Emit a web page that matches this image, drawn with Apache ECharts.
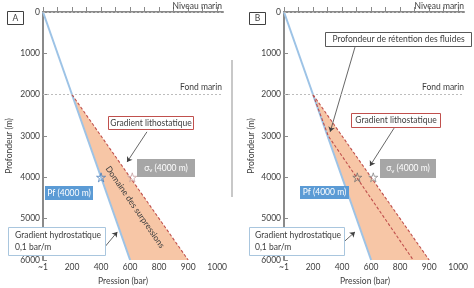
<!DOCTYPE html>
<html>
<head>
<meta charset="utf-8">
<script src="https://cdn.jsdelivr.net/npm/echarts@6/dist/echarts.min.js"></script>
<style>html,body{margin:0;padding:0;background:#fff}#c{width:474px;height:288px}</style>
</head>
<body>
<div id="c"></div>
<script>
// ---- data (pressure in bar-axis units, depth in m) ----
const depthTicks = [0, 1000, 2000, 3000, 4000, 5000, 6000];
const pressureTickValues = [0, 200, 400, 600, 800, 1000, 1200];
const pressureTickLabels = ['~1', '200', '400', '600', '800', '900', '1000'];
const pressureMinorTicks = [0,100,200,300,400,500,600,700,800,900,1000,1100,1200];
const hydrostatic = [[0, 0], [600, 6000]];
const lithostatic = [[200, 2000], [1000, 6000]];
const porePressureB = [[200, 2000], [305, 3000], [890, 6000]];
const overpressureHydroEdge = [[200, 2000], [600, 6000]];
const overpressureLithoEdge = [[1000, 6000], [200, 2000]];
const pfStarA = [[400, 4000]];
const svStarA = [[615, 4000]];
const pfStarB = [[505, 4000]];
const svStarB = [[615, 4000]];
const seaLevels = [0, 2000];
const arrowsA = [
  [[716, 2900], [579, 3630]],
  [[427, 5680], [512, 5320]]
];
const arrowsB = [
  [[489, 850], [318, 2900]],
  [[758, 2810], [592, 3725]],
  [[413, 5560], [489, 5320]]
];

const FONT = 'Lato';
const TXT = '#404040';
const STAR = 'path://M50,0 L61,35 L98,35 L68,57 L79,91 L50,70 L21,91 L32,57 L2,35 L39,35 Z';

const chart = echarts.init(document.getElementById('c'), null, {renderer: 'canvas'});

function xAxis(gi) {
  return {
    type: 'value', gridIndex: gi, min: 0, max: 1240,
    axisLine: {lineStyle: {color: '#8a8a8a', width: 2}},
    axisTick: {show: true, inside: true, length: 5, customValues: pressureMinorTicks, lineStyle: {color: '#8a8a8a'}},
    axisLabel: {customValues: pressureTickValues, fontSize: 8.5, fontFamily: FONT, color: TXT, margin: 3,
      formatter: v => pressureTickLabels[pressureTickValues.indexOf(v)] || ''},
    splitLine: {show: false}
  };
}
function yAxis(gi) {
  return {
    type: 'value', gridIndex: gi, inverse: true, min: 0, max: 6000, interval: 1000,
    axisLine: {show: true, lineStyle: {color: '#8a8a8a', width: 2}},
    axisTick: {show: true, inside: true, length: 4, lineStyle: {color: '#8a8a8a'}},
    axisLabel: {fontSize: 8.5, fontFamily: FONT, color: TXT, margin: 3,
      customValues: depthTicks, formatter: v => String(v)},
    splitLine: {show: false}
  };
}

function fillSeries(gi) {
  const pts = overpressureHydroEdge.concat(overpressureLithoEdge);
  return {
    type: 'custom', xAxisIndex: gi, yAxisIndex: gi, silent: true, z: 1,
    data: [[0, 0]],
    renderItem: (params, api) => ({
      type: 'polygon',
      shape: {points: pts.map(p => api.coord(p))},
      style: {fill: '#f7c6a6'}
    })
  };
}
function arrowMarks(list) {
  return {
    silent: true, symbol: ['none', 'arrow'], symbolSize: 5, animation: false,
    label: {show: false},
    lineStyle: {type: 'solid', color: '#404040', width: 0.8},
    emphasis: {disabled: true},
    data: list.map(a => [{coord: a[0]}, {coord: a[1]}])
  };
}
function seaMarks() {
  return {
    silent: true, symbol: 'none', animation: false, label: {show: false},
    lineStyle: {type: [2, 2], color: '#bdbdbd', width: 1},
    emphasis: {disabled: true},
    data: seaLevels.map(v => ({yAxis: v}))
  };
}
function lineS(gi, data, color, width, dashed, extra) {
  return Object.assign({
    type: 'line', xAxisIndex: gi, yAxisIndex: gi, data: data, showSymbol: false, symbol: 'none',
    silent: true, z: 3, animation: false,
    lineStyle: {color: color, width: width, type: dashed ? [3, 2] : 'solid'}
  }, extra || {});
}
function starS(gi, data, color) {
  return {
    type: 'scatter', xAxisIndex: gi, yAxisIndex: gi, data: data, symbol: STAR, symbolSize: 9,
    silent: true, z: 5,
    itemStyle: {color: 'rgba(0,0,0,0)', borderColor: color, borderWidth: 1}
  };
}

const series = [
  fillSeries(0),
  lineS(0, hydrostatic, '#9dc3e6', 2, false, {markLine: arrowMarks(arrowsA)}),
  lineS(0, lithostatic, '#c0504d', 1.1, true, {markLine: seaMarks()}),
  starS(0, pfStarA, '#4a7ebb'),
  starS(0, svStarA, '#c9a3a3'),
  fillSeries(1),
  lineS(1, hydrostatic, '#9dc3e6', 2, false, {markLine: arrowMarks(arrowsB)}),
  lineS(1, lithostatic, '#c0504d', 1.1, true, {markLine: seaMarks()}),
  lineS(1, porePressureB, '#c0504d', 1.1, true),
  starS(1, pfStarB, '#707070'),
  starS(1, svStarB, '#8a8a8a')
];

function box(x, y, w, h, fill, stroke, text, color, opts) {
  opts = opts || {};
  const els = [{type: 'rect', shape: {x: x, y: y, width: w, height: h}, style: {fill: fill, stroke: stroke, lineWidth: stroke ? 1 : 0}, z: 100}];
  els.push({type: 'text', x: opts.tx != null ? opts.tx : x + w / 2, y: y + h / 2, z: 101,
    style: Object.assign({text: text, fill: color, fontSize: 8.5, fontFamily: FONT,
      align: opts.align || 'center', verticalAlign: 'middle', lineHeight: opts.lh || 11}, opts.style || {})});
  return els;
}
function txt(x, y, text, opts) {
  opts = opts || {};
  return {type: 'text', x: x, y: y, rotation: opts.rot || 0, z: 101,
    style: {text: text, fill: TXT, fontSize: opts.size || 8.5, fontFamily: FONT,
      align: opts.align || 'center', verticalAlign: 'middle'}};
}
const svRich = {
  text: '{a|σ}{b|v}{a| (4000 m)}',
  rich: {a: {fontSize: 8.5, fontFamily: FONT, fill: '#ffffff', color: '#ffffff'},
         b: {fontSize: 6, fontFamily: FONT, fill: '#ffffff', color: '#ffffff', verticalAlign: 'bottom', padding: [4, 0, 0, 0]}}
};

let g = [];
// Panel A
g = g.concat(box(7.5, 11.5, 16, 13, '#fff', '#404040', 'A', TXT));
g.push(txt(222, 6, 'Niveau marin', {align: 'right'}));
g.push(txt(222, 87, 'Fond marin', {align: 'right'}));
g = g.concat(box(108.5, 116.5, 85, 13, '#fff', '#c0504d', 'Gradient lithostatique', TXT));
g = g.concat(box(137, 159, 58, 18, '#a6a6a6', null, '', '#fff', {style: svRich}));
g = g.concat(box(45, 186, 48, 14, '#5b9bd5', null, 'Pf (4000 m)', '#fff'));
g = g.concat(box(8.5, 227.5, 97, 28, '#fff', '#a9c6de', 'Gradient hydrostatique\n0,1 bar/m', TXT, {align: 'left', tx: 15, lh: 12}));
g.push(txt(135, 207, 'Domaine des surpressions', {rot: -0.97}));
g.push(txt(9, 146, 'Profondeur (m)', {rot: Math.PI / 2}));
g.push(txt(123, 281, 'Pression (bar)'));
g.push({type: 'line', shape: {x1: 232, y1: 60, x2: 232, y2: 197}, style: {stroke: '#c8c8c8', lineWidth: 2}, z: 50});
// Panel B
g = g.concat(box(249.5, 12.5, 16, 12, '#fff', '#404040', 'B', TXT));
g.push(txt(464, 6, 'Niveau marin', {align: 'right'}));
g.push(txt(464, 87, 'Fond marin', {align: 'right'}));
g = g.concat(box(325.5, 32.5, 146, 14, '#fff', '#595959', 'Profondeur de rétention des fluides', TXT));
g = g.concat(box(351.5, 113.5, 89, 14, '#fff', '#c0504d', 'Gradient lithostatique', TXT));
g = g.concat(box(380, 159, 56, 19, '#a6a6a6', null, '', '#fff', {style: svRich}));
g = g.concat(box(300, 186, 49, 13, '#5b9bd5', null, 'Pf (4000 m)', '#fff'));
g = g.concat(box(249.5, 227.5, 95, 28, '#fff', '#a9c6de', 'Gradient hydrostatique\n0,1 bar/m', TXT, {align: 'left', tx: 255, lh: 12}));
g.push(txt(251, 146, 'Profondeur (m)', {rot: Math.PI / 2}));
g.push(txt(365, 281, 'Pression (bar)'));

chart.setOption({
  animation: false,
  backgroundColor: '#ffffff',
  grid: [
    {left: 43, top: 12, width: 180, height: 248},
    {left: 284, top: 12, width: 180, height: 248}
  ],
  xAxis: [xAxis(0), xAxis(1)],
  yAxis: [yAxis(0), yAxis(1)],
  series: series,
  graphic: g
});
</script>
</body>
</html>
